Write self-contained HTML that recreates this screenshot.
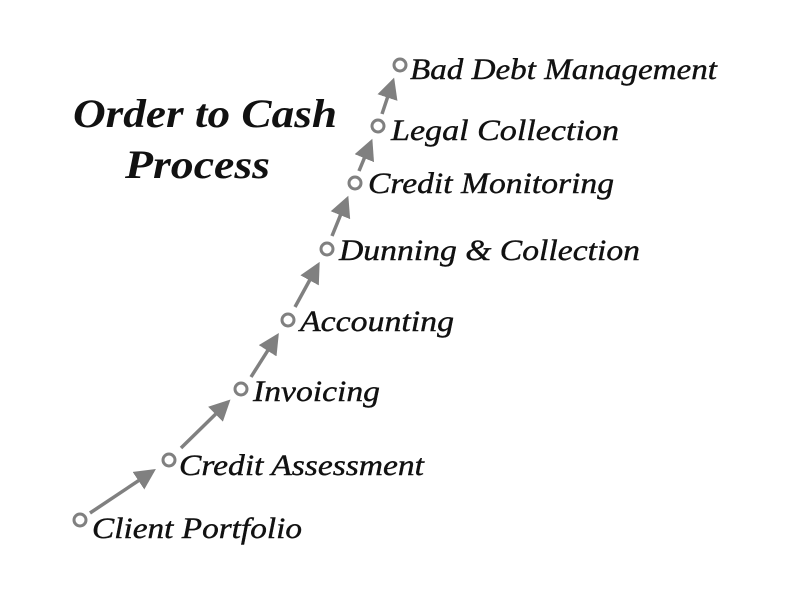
<!DOCTYPE html>
<html><head><style>
body{margin:0;background:#fff;}
svg text{font-family:"Liberation Serif",serif;font-style:italic;fill:#111;}
</style></head><body>
<svg width="800" height="606" viewBox="0 0 800 606" xmlns="http://www.w3.org/2000/svg">
<defs><marker id="a" markerWidth="6" markerHeight="6" refX="5" refY="3" orient="auto" markerUnits="strokeWidth"><path d="M0,0 L6,3 L0,6 z" fill="#808080"/></marker></defs>
<g stroke="#808080" stroke-width="3.5" fill="none" marker-end="url(#a)">
<line x1="90" y1="513" x2="153" y2="471"/>
<line x1="181" y1="448" x2="228" y2="402"/>
<line x1="251" y1="377" x2="277" y2="336"/>
<line x1="295" y1="307" x2="318" y2="265"/>
<line x1="332" y1="236" x2="347" y2="199"/>
<line x1="359" y1="171" x2="371" y2="142"/>
<line x1="382" y1="114" x2="393" y2="81"/>
</g>
<g stroke="#808080" stroke-width="3" fill="#fff">
<circle cx="80" cy="520" r="6"/><circle cx="169" cy="460" r="6"/><circle cx="241" cy="389" r="6"/><circle cx="288" cy="320" r="6"/><circle cx="327" cy="249" r="6"/><circle cx="355" cy="183" r="6"/><circle cx="378" cy="126" r="6"/><circle cx="400" cy="65" r="6"/>
</g>
<g font-size="30" lengthAdjust="spacingAndGlyphs" stroke="#111" stroke-width="0.4">
<text x="92" y="538" textLength="210" lengthAdjust="spacingAndGlyphs">Client Portfolio</text>
<text x="179" y="475" textLength="245" lengthAdjust="spacingAndGlyphs">Credit Assessment</text>
<text x="253" y="401" textLength="127" lengthAdjust="spacingAndGlyphs">Invoicing</text>
<text x="300" y="331" textLength="154" lengthAdjust="spacingAndGlyphs">Accounting</text>
<text x="339" y="260" textLength="301" lengthAdjust="spacingAndGlyphs">Dunning &amp; Collection</text>
<text x="368" y="193" textLength="246" lengthAdjust="spacingAndGlyphs">Credit Monitoring</text>
<text x="391" y="140" textLength="228" lengthAdjust="spacingAndGlyphs">Legal Collection</text>
<text x="410" y="79" textLength="307" lengthAdjust="spacingAndGlyphs">Bad Debt Management</text>
</g>
<g font-size="40" font-weight="bold">
<text x="73" y="127" textLength="264" lengthAdjust="spacingAndGlyphs">Order to Cash</text>
<text x="125" y="178" textLength="145" lengthAdjust="spacingAndGlyphs">Process</text>
</g>
</svg>
</body></html>
